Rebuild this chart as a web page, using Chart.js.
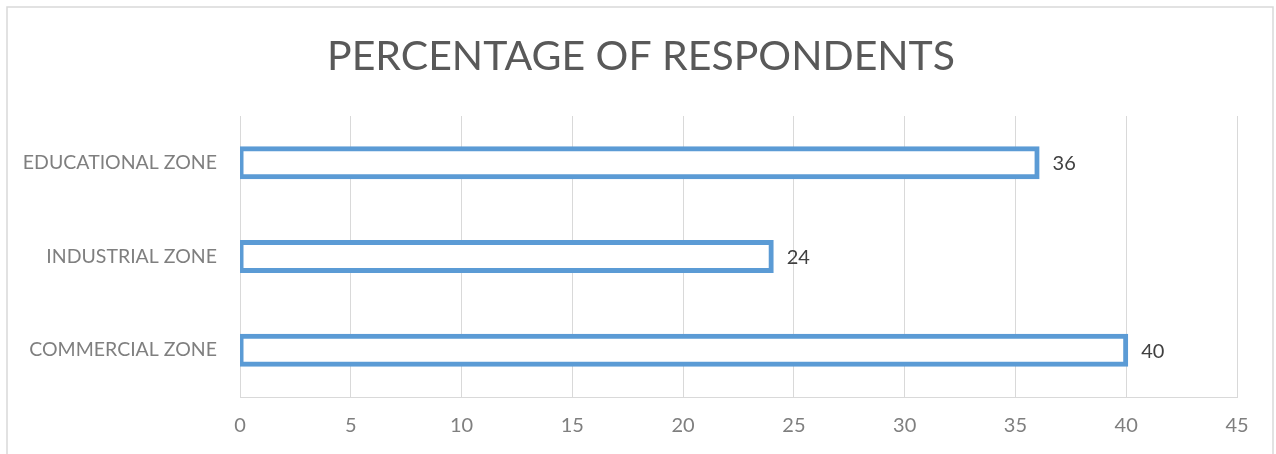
<!DOCTYPE html>
<html>
<head>
<meta charset="utf-8">
<script src="https://cdn.jsdelivr.net/npm/chart.js@4/dist/chart.umd.min.js"></script>
<style>
  html, body { margin: 0; padding: 0; background: #ffffff; }
  #wrap { width: 1276px; height: 454px; position: relative; }
</style>
</head>
<body>
<div id="wrap"><canvas id="chart" width="1276" height="454"></canvas></div>
<script>
// Zones, listed top to bottom as drawn
const categories = ['EDUCATIONAL ZONE', 'INDUSTRIAL ZONE', 'COMMERCIAL ZONE'];
// Percentage of respondents per zone
const respondents = [36, 24, 40];
// Horizontal axis ticks
const xTicks = [0, 5, 10, 15, 20, 25, 30, 35, 40, 45];
const chartTitle = 'PERCENTAGE OF RESPONDENTS';

const FONT = 'Lato, "Open Sans", sans-serif';

// Light frame round the whole chart, and the centred heading
const framePlugin = {
  id: 'frame',
  beforeDraw(chart) {
    const ctx = chart.ctx;
    ctx.save();
    ctx.fillStyle = '#ffffff';
    ctx.fillRect(0, 0, chart.width, chart.height);
    ctx.strokeStyle = '#d9d9d9';
    ctx.lineWidth = 1.5;
    ctx.strokeRect(7, 7, chart.width - 10, chart.height + 10);
    ctx.font = '41px ' + FONT;
    ctx.fillStyle = '#595959';
    ctx.textAlign = 'center';
    ctx.textBaseline = 'middle';
    ctx.fillText(chartTitle, 641, 57);
    ctx.restore();
  }
};

// Value written just past the end of each bar
const valueLabelPlugin = {
  id: 'valueLabels',
  afterDatasetsDraw(chart) {
    const ctx = chart.ctx;
    const meta = chart.getDatasetMeta(0);
    ctx.save();
    ctx.font = '20px ' + FONT;
    ctx.fillStyle = '#404040';
    ctx.textAlign = 'left';
    ctx.textBaseline = 'middle';
    meta.data.forEach((bar, i) => {
      ctx.fillText(String(chart.data.datasets[0].data[i]), bar.x + 15, bar.y + 1);
    });
    ctx.restore();
  }
};

new Chart(document.getElementById('chart'), {
  type: 'bar',
  data: {
    labels: categories,
    datasets: [{
      label: 'Percentage of respondents',
      data: respondents,
      backgroundColor: '#ffffff',
      borderColor: '#5b9bd5',
      borderWidth: 5,
      borderSkipped: false,
      barThickness: 29,
      inflateAmount: 2
    }]
  },
  options: {
    indexAxis: 'y',
    responsive: false,
    animation: false,
    layout: { padding: { left: 0, right: 39, top: 116, bottom: 0 } },
    plugins: {
      legend: { display: false },
      tooltip: { enabled: false },
      title: { display: false }
    },
    scales: {
      x: {
        min: 0,
        max: 45,
        afterBuildTicks(scale) {
          scale.ticks = xTicks.map(v => ({ value: v }));
        },
        afterFit(scale) { scale.height = 57; },
        grid: { color: '#d9d9d9', lineWidth: 1, drawTicks: false },
        border: { display: true, color: '#d9d9d9', width: 1 },
        ticks: {
          color: '#7f7f7f',
          font: { family: FONT, size: 20 },
          padding: 17,
          maxRotation: 0
        }
      },
      y: {
        afterFit(scale) { scale.width = 240; },
        grid: { display: false, drawTicks: false },
        border: { display: false },
        ticks: {
          color: '#7f7f7f',
          font: { family: FONT, size: 19.5 },
          padding: 23
        }
      }
    }
  },
  plugins: [framePlugin, valueLabelPlugin]
});
</script>
</body>
</html>
